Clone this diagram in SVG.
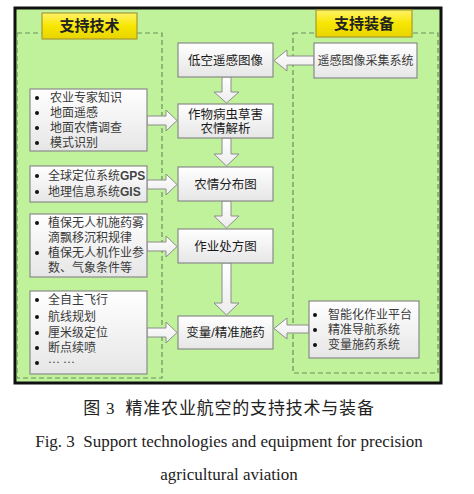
<svg xmlns="http://www.w3.org/2000/svg" width="474" height="494" viewBox="0 0 474 494">
<defs>
<linearGradient id="gbox" x1="0" y1="0" x2="0" y2="1"><stop offset="0" stop-color="#ffffff"/><stop offset="1" stop-color="#e6e6e6"/></linearGradient>
<linearGradient id="gyel" x1="0" y1="0" x2="0" y2="1"><stop offset="0" stop-color="#fff36a"/><stop offset="0.5" stop-color="#f7e600"/><stop offset="1" stop-color="#e8d400"/></linearGradient>
<linearGradient id="garr" x1="0" y1="0" x2="0" y2="1"><stop offset="0" stop-color="#ffffff"/><stop offset="1" stop-color="#ececec"/></linearGradient>
<style>
.box{fill:url(#gbox);stroke:#8a8a8a;stroke-width:1.2}
.hdr{fill:url(#gyel);stroke:#a89a30;stroke-width:1.2}
.dash{fill:none;stroke:#6b8f5a;stroke-width:1.2;stroke-dasharray:5 3}
.arr{fill:url(#garr);stroke:#8c8c8c;stroke-width:1}
.ct{font-family:"Liberation Sans","Noto Sans CJK SC",sans-serif;font-size:12.5px;fill:#1a1a1a;text-anchor:middle}
.lt{font-family:"Liberation Serif","Noto Sans CJK SC",serif;font-size:12px;fill:#3a3a3a}
.ht{font-family:"Noto Sans CJK SC",sans-serif;font-size:15px;font-weight:bold;fill:#222;text-anchor:middle}
.bul{fill:#111}
.cap{font-family:"Liberation Serif","Noto Sans CJK SC",serif;fill:#222;text-anchor:middle}
</style>
</defs>
<rect x="15" y="8" width="426" height="375" fill="#c0f29b" stroke="#111" stroke-width="3"/>
<rect class="dash" x="17" y="33" width="145" height="345"/>
<rect class="dash" x="293" y="33" width="145" height="340"/>

<g id="hdr-tech"><rect class="hdr" x="42" y="13" width="95" height="26"/><text class="ht" x="89.5" y="31">支持技术</text></g>
<g id="hdr-equip"><rect class="hdr" x="316" y="10" width="96" height="27"/><text class="ht" x="364" y="29">支持装备</text></g>

<g id="connectors">
<path class="arr" d="M222 77 H231 V92 H239 L226.5 103 L214 92 H222 Z"/>
<path class="arr" d="M222 138 H231 V154 H239 L226.5 166 L214 154 H222 Z"/>
<path class="arr" d="M222 201 H231 V216 H239 L226.5 228 L214 216 H222 Z"/>
<path class="arr" d="M222 263 H231 V303 H239 L226.5 315 L214 303 H222 Z"/>
<path class="arr" d="M147 116 H166 V110 L177 120.5 L166 131 V125 H147 Z"/>
<path class="arr" d="M147 180 H166 V174 L177 184.5 L166 195 V189 H147 Z"/>
<path class="arr" d="M147 242 H166 V236 L177 246.5 L166 257 V251 H147 Z"/>
<path class="arr" d="M147 328 H166 V322 L177 332.5 L166 343 V337 H147 Z"/>
<path class="arr" d="M314 56 H287 V50 L274 60.5 L287 71 V65 H314 Z"/>
<path class="arr" d="M309 325 H287 V318 L274 328.5 L287 339 V333 H309 Z"/>
</g>

<g id="n-image"><rect class="box" x="178" y="43" width="95" height="34"/><text class="ct" x="225.5" y="64.5">低空遥感图像</text></g>
<g id="n-analysis"><rect class="box" x="178" y="104" width="95" height="34"/><text class="ct" x="225.5" y="118.5">作物病虫草害</text><text class="ct" x="225.5" y="132.5">农情解析</text></g>
<g id="n-distmap"><rect class="box" x="178" y="167" width="95" height="34"/><text class="ct" x="225.5" y="188.5">农情分布图</text></g>
<g id="n-prescription"><rect class="box" x="178" y="229" width="95" height="34"/><text class="ct" x="225.5" y="250.5">作业处方图</text></g>
<g id="n-spray"><rect class="box" x="178" y="316" width="95" height="33"/><text class="ct" x="225.5" y="337">变量/精准施药</text></g>

<g id="l-knowledge"><rect class="box" x="30" y="89" width="117" height="62"/>
<circle class="bul" cx="37" cy="98" r="2"/><text class="lt" x="50" y="102">农业专家知识</text>
<circle class="bul" cx="37" cy="113" r="2"/><text class="lt" x="50" y="117">地面遥感</text>
<circle class="bul" cx="37" cy="128" r="2"/><text class="lt" x="50" y="132">地面农情调查</text>
<circle class="bul" cx="37" cy="143" r="2"/><text class="lt" x="50" y="147">模式识别</text></g>
<g id="l-gps"><rect class="box" x="30" y="166" width="117" height="36"/>
<circle class="bul" cx="37" cy="176" r="2"/><text class="lt" x="48" y="180">全球定位系统<tspan font-family="Liberation Sans" font-weight="bold" fill="#444">GPS</tspan></text>
<circle class="bul" cx="37" cy="192" r="2"/><text class="lt" x="48" y="196">地理信息系统<tspan font-family="Liberation Sans" font-weight="bold" fill="#444">GIS</tspan></text></g>
<g id="l-drift"><rect class="box" x="30" y="214" width="117" height="63"/>
<circle class="bul" cx="37" cy="223" r="2"/><text class="lt" x="48" y="227">植保无人机施药雾</text>
<text class="lt" x="48" y="242">滴飘移沉积规律</text>
<circle class="bul" cx="37" cy="253" r="2"/><text class="lt" x="48" y="257">植保无人机作业参</text>
<text class="lt" x="48" y="272">数、气象条件等</text></g>
<g id="l-flight"><rect class="box" x="30" y="291" width="117" height="83"/>
<circle class="bul" cx="37" cy="300" r="2"/><text class="lt" x="48" y="304">全自主飞行</text>
<circle class="bul" cx="37" cy="317" r="2"/><text class="lt" x="48" y="321">航线规划</text>
<circle class="bul" cx="37" cy="333" r="2"/><text class="lt" x="48" y="337">厘米级定位</text>
<circle class="bul" cx="37" cy="348" r="2"/><text class="lt" x="48" y="352">断点续喷</text>
<circle class="bul" cx="37" cy="363" r="2"/><text class="lt" x="48" y="366">··· ···</text></g>

<g id="r-camera"><rect class="box" x="314" y="43" width="103" height="35"/><text class="lt" x="365.5" y="65" text-anchor="middle">遥感图像采集系统</text></g>
<g id="r-platform"><rect class="box" x="309" y="301" width="110" height="57"/>
<circle class="bul" cx="315" cy="315" r="2"/><text class="lt" x="328" y="319">智能化作业平台</text>
<circle class="bul" cx="315" cy="330" r="2"/><text class="lt" x="328" y="334">精准导航系统</text>
<circle class="bul" cx="315" cy="345" r="2"/><text class="lt" x="328" y="349">变量施药系统</text></g>

<text class="cap" x="229" y="414" font-size="17" letter-spacing="0.8" xml:space="preserve">图 3  精准农业航空的支持技术与装备</text>
<text class="cap" x="229" y="447" font-size="17" xml:space="preserve">Fig. 3  Support technologies and equipment for precision</text>
<text class="cap" x="229" y="480" font-size="17">agricultural aviation</text>
</svg>
